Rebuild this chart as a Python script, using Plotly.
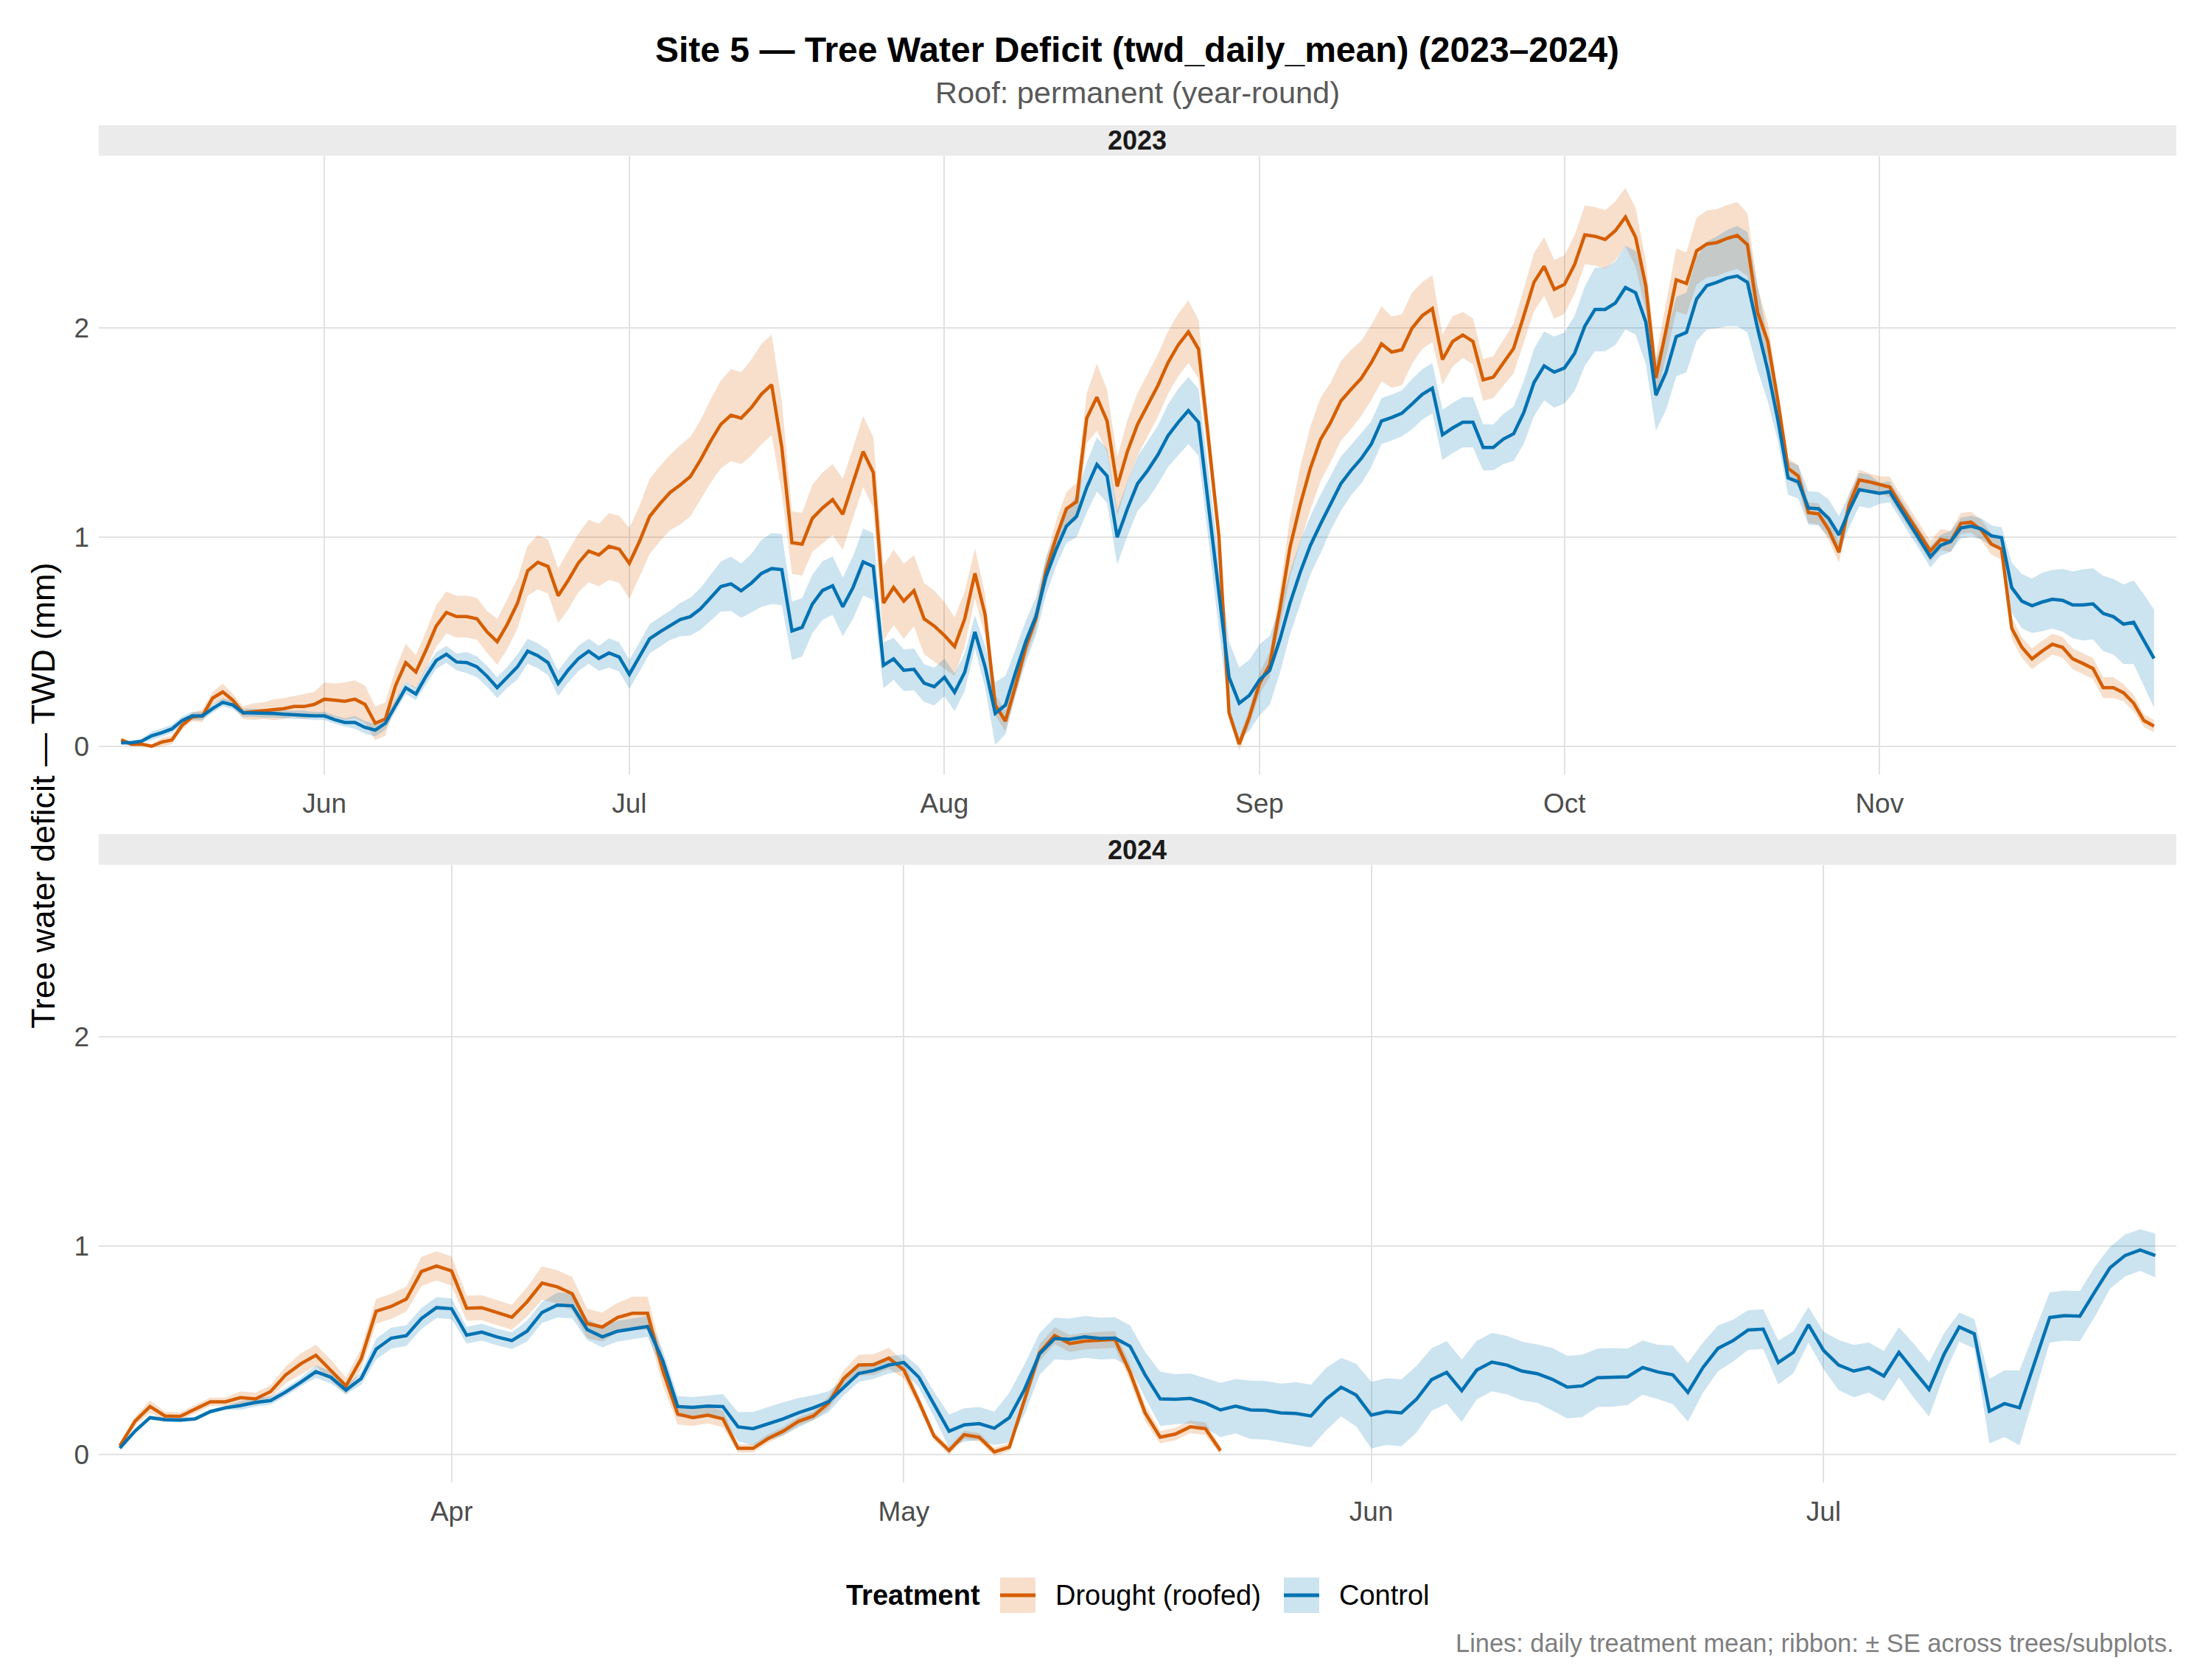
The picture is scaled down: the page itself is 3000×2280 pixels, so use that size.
import pandas as pd
import plotly.graph_objects as go

# ---------------- data ----------------
start_2023 = "2023-05-12"
drought_2023 = [
    0.03, 0.01, 0.01, 0.00, 0.02, 0.03, 0.10, 0.14, 0.145, 0.23,
    0.26, 0.22, 0.16, 0.165, 0.17, 0.175, 0.18, 0.19, 0.19, 0.20,
    0.225, 0.22, 0.215, 0.225, 0.20, 0.11, 0.13, 0.29, 0.40, 0.355,
    0.46, 0.575, 0.64, 0.62, 0.62, 0.61, 0.547, 0.50, 0.584, 0.685,
    0.84, 0.88, 0.86, 0.72, 0.795, 0.878, 0.934, 0.915, 0.956, 0.943,
    0.875, 0.98, 1.10, 1.16, 1.214, 1.25, 1.29, 1.37, 1.46, 1.54,
    1.584, 1.57, 1.62, 1.685, 1.73, 1.43, 0.974, 0.967, 1.09, 1.14,
    1.18, 1.11, 1.256, 1.41, 1.31, 0.685, 0.76, 0.694, 0.744, 0.61,
    0.575, 0.53, 0.477, 0.61, 0.827, 0.63, 0.197, 0.12, 0.29, 0.473,
    0.61, 0.84, 1.00, 1.136, 1.17, 1.57, 1.67, 1.556, 1.243, 1.41,
    1.54, 1.634, 1.726, 1.836, 1.92, 1.983, 1.90, 1.46, 1.007, 0.16,
    0.01, 0.14, 0.30, 0.39, 0.657, 0.952, 1.155, 1.33, 1.468, 1.55,
    1.652, 1.707, 1.76, 1.836, 1.925, 1.886, 1.897, 2.00, 2.06, 2.094,
    1.85, 1.937, 1.968, 1.937, 1.753, 1.766, 1.836, 1.904, 2.06, 2.22,
    2.296, 2.186, 2.21, 2.305, 2.447, 2.44, 2.425, 2.466, 2.532, 2.435,
    2.204, 1.762, 1.993, 2.232, 2.214, 2.37, 2.403, 2.41, 2.43, 2.444,
    2.40, 2.076, 1.937, 1.652, 1.33, 1.293, 1.118, 1.112, 1.035, 0.928,
    1.155, 1.274, 1.265, 1.252, 1.24, 1.16, 1.085, 1.007, 0.934, 0.989,
    0.98, 1.066, 1.072, 1.035, 0.967, 0.943, 0.565, 0.473, 0.418, 0.455,
    0.488, 0.473, 0.418, 0.396, 0.372, 0.28, 0.28, 0.256, 0.206, 0.123,
    0.096,
]
drought_se_2023 = [
    0.01, 0.01, 0.01, 0.01, 0.02, 0.02, 0.02, 0.02, 0.03, 0.03,
    0.04, 0.03, 0.03, 0.04, 0.04, 0.05, 0.05, 0.05, 0.06, 0.06,
    0.08, 0.08, 0.09, 0.09, 0.09, 0.08, 0.08, 0.08, 0.09, 0.08,
    0.09, 0.10, 0.10, 0.10, 0.10, 0.10, 0.10, 0.11, 0.12, 0.12,
    0.12, 0.13, 0.13, 0.13, 0.14, 0.14, 0.15, 0.15, 0.16, 0.16,
    0.17, 0.17, 0.18, 0.18, 0.18, 0.19, 0.19, 0.19, 0.20, 0.21,
    0.22, 0.22, 0.23, 0.24, 0.24, 0.22, 0.15, 0.15, 0.16, 0.17,
    0.17, 0.17, 0.17, 0.17, 0.17, 0.18, 0.18, 0.18, 0.17, 0.17,
    0.17, 0.16, 0.14, 0.13, 0.12, 0.10, 0.05, 0.05, 0.04, 0.05,
    0.05, 0.06, 0.08, 0.08, 0.09, 0.12, 0.16, 0.15, 0.14, 0.15,
    0.15, 0.15, 0.15, 0.15, 0.15, 0.15, 0.14, 0.10, 0.06, 0.03,
    0.03, 0.04, 0.05, 0.06, 0.09, 0.14, 0.18, 0.20, 0.20, 0.19,
    0.19, 0.19, 0.18, 0.18, 0.18, 0.17, 0.17, 0.17, 0.16, 0.16,
    0.12, 0.12, 0.11, 0.11, 0.10, 0.10, 0.11, 0.12, 0.13, 0.14,
    0.14, 0.14, 0.14, 0.14, 0.14, 0.14, 0.14, 0.14, 0.14, 0.14,
    0.12, 0.10, 0.13, 0.15, 0.15, 0.16, 0.16, 0.16, 0.16, 0.16,
    0.15, 0.12, 0.09, 0.06, 0.05, 0.05, 0.05, 0.05, 0.05, 0.05,
    0.05, 0.05, 0.04, 0.04, 0.05, 0.05, 0.05, 0.05, 0.05, 0.05,
    0.05, 0.05, 0.05, 0.05, 0.05, 0.05, 0.05, 0.05, 0.05, 0.05,
    0.05, 0.05, 0.05, 0.05, 0.05, 0.05, 0.05, 0.04, 0.04, 0.03,
    0.03,
]
control_2023 = [
    0.017, 0.017, 0.024, 0.05, 0.065, 0.083, 0.123, 0.145, 0.145, 0.18,
    0.21, 0.197, 0.16, 0.16, 0.157, 0.157, 0.153, 0.15, 0.15, 0.145,
    0.145, 0.127, 0.114, 0.114, 0.09, 0.077, 0.11, 0.197, 0.28, 0.25,
    0.335, 0.41, 0.44, 0.403, 0.40, 0.38, 0.335, 0.28, 0.33, 0.38,
    0.455, 0.433, 0.40, 0.30, 0.366, 0.42, 0.455, 0.42, 0.446, 0.427,
    0.344, 0.427, 0.514, 0.547, 0.578, 0.606, 0.62, 0.657, 0.71, 0.764,
    0.777, 0.744, 0.78, 0.827, 0.85, 0.845, 0.552, 0.569, 0.68, 0.745,
    0.768, 0.667, 0.759, 0.882, 0.86, 0.387, 0.418, 0.363, 0.368, 0.302,
    0.285, 0.33, 0.258, 0.354, 0.547, 0.38, 0.157, 0.197, 0.354, 0.50,
    0.62, 0.814, 0.943, 1.053, 1.10, 1.238, 1.348, 1.293, 1.00, 1.136,
    1.256, 1.32, 1.394, 1.486, 1.55, 1.606, 1.55, 1.136, 0.73, 0.33,
    0.206, 0.243, 0.317, 0.363, 0.51, 0.685, 0.832, 0.961, 1.063, 1.164,
    1.256, 1.32, 1.376, 1.446, 1.556, 1.573, 1.593, 1.637, 1.683, 1.713,
    1.49, 1.523, 1.55, 1.55, 1.43, 1.43, 1.47, 1.495, 1.597, 1.74,
    1.82, 1.79, 1.81, 1.88, 2.01, 2.09, 2.09, 2.12, 2.195, 2.17,
    2.03, 1.68, 1.79, 1.96, 1.98, 2.14, 2.204, 2.22, 2.24, 2.25,
    2.22, 2.00, 1.80, 1.56, 1.284, 1.265, 1.14, 1.136, 1.09, 1.011,
    1.127, 1.228, 1.219, 1.21, 1.217, 1.14, 1.06, 0.985, 0.906, 0.961,
    0.98, 1.044, 1.053, 1.04, 1.007, 0.998, 0.759, 0.694, 0.672, 0.69,
    0.703, 0.698, 0.676, 0.676, 0.681, 0.635, 0.62, 0.584, 0.593, 0.506,
    0.42,
]
control_se_2023 = [
    0.01, 0.01, 0.01, 0.02, 0.02, 0.02, 0.02, 0.02, 0.02, 0.02,
    0.02, 0.02, 0.02, 0.02, 0.02, 0.02, 0.02, 0.02, 0.02, 0.02,
    0.02, 0.02, 0.02, 0.03, 0.03, 0.03, 0.03, 0.03, 0.03, 0.03,
    0.04, 0.04, 0.04, 0.04, 0.05, 0.05, 0.05, 0.05, 0.05, 0.06,
    0.06, 0.06, 0.06, 0.06, 0.06, 0.06, 0.06, 0.06, 0.07, 0.07,
    0.07, 0.07, 0.07, 0.07, 0.07, 0.08, 0.09, 0.10, 0.11, 0.12,
    0.13, 0.13, 0.14, 0.16, 0.17, 0.17, 0.14, 0.14, 0.14, 0.14,
    0.14, 0.14, 0.15, 0.16, 0.16, 0.11, 0.10, 0.10, 0.10, 0.09,
    0.09, 0.09, 0.09, 0.09, 0.08, 0.10, 0.15, 0.14, 0.11, 0.10,
    0.09, 0.09, 0.08, 0.08, 0.10, 0.12, 0.13, 0.13, 0.13, 0.13,
    0.13, 0.14, 0.14, 0.15, 0.16, 0.16, 0.16, 0.17, 0.17, 0.17,
    0.17, 0.17, 0.17, 0.165, 0.16, 0.15, 0.15, 0.14, 0.14, 0.13,
    0.13, 0.12, 0.12, 0.11, 0.11, 0.11, 0.11, 0.12, 0.12, 0.12,
    0.12, 0.12, 0.12, 0.12, 0.11, 0.11, 0.12, 0.13, 0.15, 0.16,
    0.165, 0.17, 0.17, 0.18, 0.19, 0.20, 0.20, 0.20, 0.20, 0.20,
    0.20, 0.17, 0.18, 0.19, 0.19, 0.20, 0.21, 0.22, 0.23, 0.24,
    0.24, 0.20, 0.15, 0.10, 0.08, 0.08, 0.08, 0.08, 0.09, 0.09,
    0.08, 0.08, 0.08, 0.05, 0.05, 0.05, 0.05, 0.05, 0.05, 0.05,
    0.05, 0.05, 0.05, 0.05, 0.05, 0.05, 0.12, 0.13, 0.13, 0.14,
    0.14, 0.15, 0.16, 0.17, 0.17, 0.18, 0.18, 0.19, 0.20, 0.22,
    0.235,
]

start_2024 = "2024-03-10"
drought_2024 = [
    0.041, 0.158, 0.229, 0.184, 0.182, 0.217, 0.252, 0.252, 0.272, 0.266,
    0.301, 0.381, 0.434, 0.475, 0.404, 0.328, 0.457, 0.686, 0.709, 0.744,
    0.876, 0.903, 0.879, 0.70, 0.703, 0.68, 0.657, 0.73, 0.821, 0.803,
    0.77, 0.627, 0.61, 0.656, 0.676, 0.676, 0.404, 0.193, 0.176, 0.188,
    0.17, 0.029, 0.029, 0.076, 0.111, 0.158, 0.184, 0.246, 0.363, 0.428,
    0.43, 0.461, 0.404, 0.252, 0.088, 0.018, 0.094, 0.082, 0.012, 0.035,
    0.264, 0.487, 0.569, 0.531, 0.543, 0.547, 0.551, 0.393, 0.199, 0.082,
    0.097, 0.132, 0.123, 0.018,
]
drought_se_2024 = [
    0.01, 0.02, 0.03, 0.02, 0.02, 0.02, 0.02, 0.02, 0.03, 0.03,
    0.03, 0.04, 0.05, 0.05, 0.05, 0.04, 0.05, 0.06, 0.06, 0.06,
    0.07, 0.07, 0.07, 0.06, 0.06, 0.06, 0.06, 0.07, 0.08, 0.08,
    0.08, 0.07, 0.07, 0.07, 0.08, 0.08, 0.07, 0.05, 0.04, 0.04,
    0.04, 0.02, 0.02, 0.02, 0.02, 0.02, 0.02, 0.03, 0.04, 0.05,
    0.05, 0.05, 0.04, 0.03, 0.02, 0.02, 0.02, 0.02, 0.02, 0.02,
    0.03, 0.04, 0.04, 0.04, 0.04, 0.04, 0.04, 0.04, 0.04, 0.03,
    0.03, 0.03, 0.03, 0.02,
]
control_2024 = [
    0.03, 0.111, 0.176, 0.166, 0.164, 0.17, 0.205, 0.223, 0.234, 0.249,
    0.258, 0.299, 0.346, 0.396, 0.369, 0.308, 0.363, 0.504, 0.557, 0.569,
    0.651, 0.703, 0.698, 0.571, 0.586, 0.563, 0.545, 0.59, 0.68, 0.715,
    0.712, 0.598, 0.563, 0.59, 0.601, 0.613, 0.451, 0.229, 0.225, 0.231,
    0.229, 0.132, 0.123, 0.147, 0.17, 0.199, 0.223, 0.252, 0.322, 0.387,
    0.402, 0.428, 0.44, 0.369, 0.24, 0.111, 0.141, 0.147, 0.125, 0.176,
    0.311, 0.481, 0.555, 0.551, 0.563, 0.555, 0.557, 0.518, 0.381, 0.266,
    0.264, 0.268, 0.246, 0.213, 0.231, 0.213, 0.211, 0.199, 0.196, 0.184,
    0.264, 0.322, 0.284, 0.188, 0.205, 0.199, 0.264, 0.358, 0.393, 0.305,
    0.404, 0.442, 0.428, 0.399, 0.387, 0.36, 0.322, 0.328, 0.367, 0.369,
    0.372, 0.416, 0.395, 0.381, 0.297, 0.416, 0.508, 0.545, 0.596, 0.60,
    0.44, 0.489, 0.621, 0.498, 0.428, 0.399, 0.416, 0.375, 0.489, 0.399,
    0.311, 0.481, 0.61, 0.578, 0.207, 0.243, 0.223, 0.44, 0.656, 0.665,
    0.662, 0.78, 0.894, 0.953, 0.979, 0.953,
]
control_se_2024 = [
    0.01, 0.01, 0.01, 0.01, 0.01, 0.01, 0.01, 0.01, 0.02, 0.02,
    0.02, 0.02, 0.02, 0.03, 0.03, 0.02, 0.03, 0.05, 0.05, 0.05,
    0.05, 0.05, 0.05, 0.04, 0.04, 0.04, 0.04, 0.05, 0.05, 0.06,
    0.06, 0.05, 0.05, 0.05, 0.05, 0.05, 0.05, 0.05, 0.05, 0.05,
    0.06, 0.07, 0.08, 0.08, 0.08, 0.07, 0.06, 0.05, 0.04, 0.04,
    0.04, 0.04, 0.04, 0.05, 0.06, 0.08, 0.08, 0.08, 0.08, 0.12,
    0.12, 0.10, 0.10, 0.10, 0.10, 0.10, 0.10, 0.10, 0.11, 0.13,
    0.12, 0.12, 0.12, 0.13, 0.13, 0.14, 0.14, 0.14, 0.15, 0.15,
    0.15, 0.14, 0.15, 0.16, 0.16, 0.16, 0.16, 0.15, 0.15, 0.15,
    0.14, 0.14, 0.14, 0.14, 0.14, 0.15, 0.15, 0.15, 0.14, 0.14,
    0.135, 0.13, 0.13, 0.14, 0.14, 0.12, 0.11, 0.10, 0.095, 0.095,
    0.105, 0.10, 0.085, 0.09, 0.12, 0.125, 0.12, 0.12, 0.12, 0.13,
    0.13, 0.10, 0.07, 0.07, 0.155, 0.16, 0.18, 0.15, 0.12, 0.12,
    0.12, 0.12, 0.10, 0.10, 0.10, 0.105,
]

ticks_2023 = ["2023-06-01", "2023-07-01", "2023-08-01", "2023-09-01", "2023-10-01", "2023-11-01"]
labels_2023 = ["Jun", "Jul", "Aug", "Sep", "Oct", "Nov"]
ticks_2024 = ["2024-04-01", "2024-05-01", "2024-06-01", "2024-07-01"]
labels_2024 = ["Apr", "May", "Jun", "Jul"]
y_ticks = [0, 1, 2]

# ---------------- styling ----------------
W, H = 3000, 2280
FONT = "Liberation Sans, Arial, Helvetica, sans-serif"
C_DROUGHT = "#D55E00"
C_CONTROL = "#0072B2"
F_DROUGHT = "rgba(213,94,0,0.2)"
F_CONTROL = "rgba(0,114,178,0.2)"
GRID = "#E2E2E2"
TICK_C = "#4D4D4D"


def px(x):
    return x / W


def py(y):
    return 1 - y / H


X0, X1 = px(134), px(2953)
TOP_DOM = [py(1051), py(211.5)]
BOT_DOM = [py(2012), py(1173.7)]
YRANGE = [-0.135, 2.825]

fig = go.Figure()


def add_series(dates, mean, se, color, fill, xa, ya):
    upper = [m + s for m, s in zip(mean, se)]
    lower = [m - s for m, s in zip(mean, se)]
    xs = list(dates) + list(dates[::-1])
    ys = upper + lower[::-1]
    fig.add_trace(go.Scatter(x=xs, y=ys, fill="toself", fillcolor=fill,
                             line=dict(width=0), mode="lines", hoverinfo="skip",
                             showlegend=False, xaxis=xa, yaxis=ya))


def add_line(dates, mean, color, xa, ya):
    fig.add_trace(go.Scatter(x=list(dates), y=mean, mode="lines",
                             line=dict(color=color, width=4.5),
                             showlegend=False, xaxis=xa, yaxis=ya))


d23_dr = pd.date_range(start_2023, periods=len(drought_2023), freq="D")
d23_ct = pd.date_range(start_2023, periods=len(control_2023), freq="D")
d24_dr = pd.date_range(start_2024, periods=len(drought_2024), freq="D")
d24_ct = pd.date_range(start_2024, periods=len(control_2024), freq="D")

add_series(d23_dr, drought_2023, drought_se_2023, C_DROUGHT, F_DROUGHT, "x", "y")
add_series(d23_ct, control_2023, control_se_2023, C_CONTROL, F_CONTROL, "x", "y")
add_line(d23_dr, drought_2023, C_DROUGHT, "x", "y")
add_line(d23_ct, control_2023, C_CONTROL, "x", "y")

add_series(d24_dr, drought_2024, drought_se_2024, C_DROUGHT, F_DROUGHT, "x2", "y2")
add_series(d24_ct, control_2024, control_se_2024, C_CONTROL, F_CONTROL, "x2", "y2")
add_line(d24_dr, drought_2024, C_DROUGHT, "x2", "y2")
add_line(d24_ct, control_2024, C_CONTROL, "x2", "y2")

r23 = [pd.Timestamp(start_2023) - pd.Timedelta(hours=52.8),
       pd.Timestamp(start_2023) + pd.Timedelta(days=len(control_2023) - 1) + pd.Timedelta(hours=52.8)]
r24 = [pd.Timestamp(start_2024) - pd.Timedelta(hours=33.6),
       pd.Timestamp(start_2024) + pd.Timedelta(days=len(control_2024) - 1) + pd.Timedelta(hours=33.6)]

xcommon = dict(type="date", showgrid=True, gridcolor=GRID, gridwidth=2, ticks="",
               showline=False, zeroline=False, tickfont=dict(size=37, color=TICK_C, family=FONT),
               ticklabelstandoff=14)
ycommon = dict(range=YRANGE, tickvals=y_ticks, ticktext=[str(v) for v in y_ticks],
               showgrid=True, gridcolor=GRID, gridwidth=2, ticks="", showline=False,
               zeroline=False, tickfont=dict(size=37, color=TICK_C, family=FONT),
               ticklabelstandoff=12)

fig.update_layout(
    width=W, height=H, margin=dict(l=0, r=0, t=0, b=0),
    paper_bgcolor="white", plot_bgcolor="white", showlegend=False,
    font=dict(family=FONT, size=37, color=TICK_C),
    xaxis=dict(domain=[X0, X1], anchor="y", range=[str(r23[0]), str(r23[1])],
               tickvals=ticks_2023, ticktext=labels_2023, **xcommon),
    yaxis=dict(domain=TOP_DOM, anchor="x", **ycommon),
    xaxis2=dict(domain=[X0, X1], anchor="y2", range=[str(r24[0]), str(r24[1])],
                tickvals=ticks_2024, ticktext=labels_2024, **xcommon),
    yaxis2=dict(domain=BOT_DOM, anchor="x2", **ycommon),
)

shapes = [
    # facet strips
    dict(type="rect", xref="paper", yref="paper", x0=X0, x1=X1, y0=py(211.5), y1=py(170),
         fillcolor="#EBEBEB", line=dict(width=0), layer="below"),
    dict(type="rect", xref="paper", yref="paper", x0=X0, x1=X1, y0=py(1173.7), y1=py(1132),
         fillcolor="#EBEBEB", line=dict(width=0), layer="below"),
    # legend keys
    dict(type="rect", xref="paper", yref="paper", x0=px(1357), x1=px(1405), y0=py(2189), y1=py(2141),
         fillcolor=F_DROUGHT, line=dict(width=0)),
    dict(type="line", xref="paper", yref="paper", x0=px(1357), x1=px(1405), y0=py(2165), y1=py(2165),
         line=dict(color=C_DROUGHT, width=5)),
    dict(type="rect", xref="paper", yref="paper", x0=px(1742), x1=px(1790), y0=py(2189), y1=py(2141),
         fillcolor=F_CONTROL, line=dict(width=0)),
    dict(type="line", xref="paper", yref="paper", x0=px(1742), x1=px(1790), y0=py(2165), y1=py(2165),
         line=dict(color=C_CONTROL, width=5)),
]

ann = [
    dict(text="<b>Site 5 — Tree Water Deficit (twd_daily_mean) (2023–2024)</b>",
         x=px(1543), y=py(67), font=dict(size=48, color="black")),
    dict(text="Roof: permanent (year-round)", x=px(1543), y=py(126),
         font=dict(size=41.5, color="#595959")),
    dict(text="<b>2023</b>", x=px(1543), y=py(191), font=dict(size=36, color="#1A1A1A")),
    dict(text="<b>2024</b>", x=px(1543), y=py(1153), font=dict(size=36, color="#1A1A1A")),
    dict(text="Tree water deficit — TWD (mm)", x=px(59), y=py(1080), textangle=-90,
         font=dict(size=45, color="black")),
    dict(text="<b>Treatment</b>", x=px(1146), y=py(2165), xanchor="left",
         font=dict(size=38, color="black")),
    dict(text="Drought (roofed)", x=px(1430), y=py(2165), xanchor="left",
         font=dict(size=38, color="black")),
    dict(text="Control", x=px(1815), y=py(2165), xanchor="left",
         font=dict(size=38, color="black")),
    dict(text="Lines: daily treatment mean; ribbon: ± SE across trees/subplots.",
         x=px(2952), y=py(2230), xanchor="right", font=dict(size=34.4, color="#7F7F7F")),
]
for a in ann:
    a.setdefault("xanchor", "center")
    a.update(xref="paper", yref="paper", yanchor="middle", showarrow=False)
    a["font"]["family"] = FONT

fig.update_layout(shapes=shapes, annotations=ann)
fig.write_html("out.html")
